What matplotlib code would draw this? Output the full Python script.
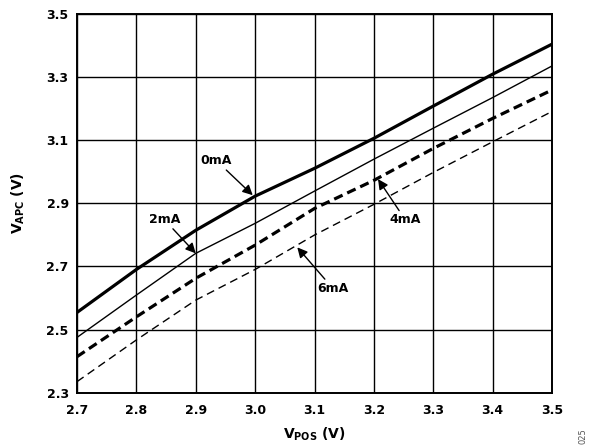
import matplotlib
matplotlib.use("Agg")
import matplotlib.pyplot as plt

vpos = [2.7, 2.8, 2.9, 3.0, 3.1, 3.2, 3.3, 3.4, 3.5]
v_0mA = [2.554, 2.69, 2.814, 2.922, 3.01, 3.105, 3.207, 3.308, 3.403]
v_2mA = [2.475, 2.609, 2.741, 2.836, 2.938, 3.039, 3.137, 3.234, 3.334]
v_4mA = [2.414, 2.54, 2.662, 2.767, 2.883, 2.972, 3.073, 3.168, 3.258]
v_6mA = [2.335, 2.467, 2.593, 2.69, 2.799, 2.896, 2.997, 3.094, 3.19]

xticks = [2.7, 2.8, 2.9, 3.0, 3.1, 3.2, 3.3, 3.4, 3.5]
yticks = [2.3, 2.5, 2.7, 2.9, 3.1, 3.3, 3.5]

plt.rcParams['font.family'] = ['DejaVu Sans']
plt.rcParams['mathtext.fontset'] = 'dejavusans'

fig = plt.figure(figsize=(5.91, 4.46), dpi=100)
ax = fig.add_axes([0.1303, 0.1195, 0.934 - 0.1303, 0.9697 - 0.1195])

ax.plot(vpos, v_0mA, color='black', lw=2.3, solid_joinstyle='miter', zorder=3)
ax.plot(vpos, v_2mA, color='black', lw=1.0, zorder=3)
ax.plot(vpos, v_4mA, color='black', lw=2.3, dashes=(2.9, 1.6), zorder=3)
ax.plot(vpos, v_6mA, color='black', lw=1.0, dashes=(5.8, 3.6), zorder=3)

ax.set_xlim(2.7, 3.5)
ax.set_ylim(2.3, 3.5)
ax.set_xticks(xticks)
ax.set_yticks(yticks)
ax.set_xticklabels([f"{v:.1f}" for v in xticks], fontsize=9, fontweight='bold')
ax.set_yticklabels([f"{v:.1f}" for v in yticks], fontsize=9, fontweight='bold')
ax.tick_params(axis='both', length=0)
ax.tick_params(axis='x', pad=8)
ax.tick_params(axis='y', pad=6)
ax.grid(True, color='black', lw=1.0)
for s in ax.spines.values():
    s.set_linewidth(1.4)

ax.set_xlabel(r"$\mathbf{V_{POS}}$ (V)", fontsize=10, fontweight='bold', labelpad=6)
ax.set_ylabel(r"$\mathbf{V_{APC}}$ (V)", fontsize=10, fontweight='bold', labelpad=14)

arrow = dict(arrowstyle='-|>', color='black', lw=1.0, mutation_scale=15, shrinkA=0, shrinkB=0)
ax.annotate("0mA", xy=(2.996, 2.925), xytext=(2.935, 3.034), fontsize=9, fontweight='bold',
            ha='center', va='center', arrowprops=arrow)
ax.annotate("2mA", xy=(2.9, 2.741), xytext=(2.847, 2.848), fontsize=9, fontweight='bold',
            ha='center', va='center', arrowprops=arrow)
ax.annotate("4mA", xy=(3.207, 2.976), xytext=(3.253, 2.847), fontsize=9, fontweight='bold',
            ha='center', va='center', arrowprops=arrow)
ax.annotate("6mA", xy=(3.071, 2.76), xytext=(3.131, 2.630), fontsize=9, fontweight='bold',
            ha='center', va='center', arrowprops=arrow)

fig.text(0.986, 0.022, "025", rotation=90, fontsize=6, color='#555555', ha='center', va='center')

fig.savefig("out.png", dpi=100)
